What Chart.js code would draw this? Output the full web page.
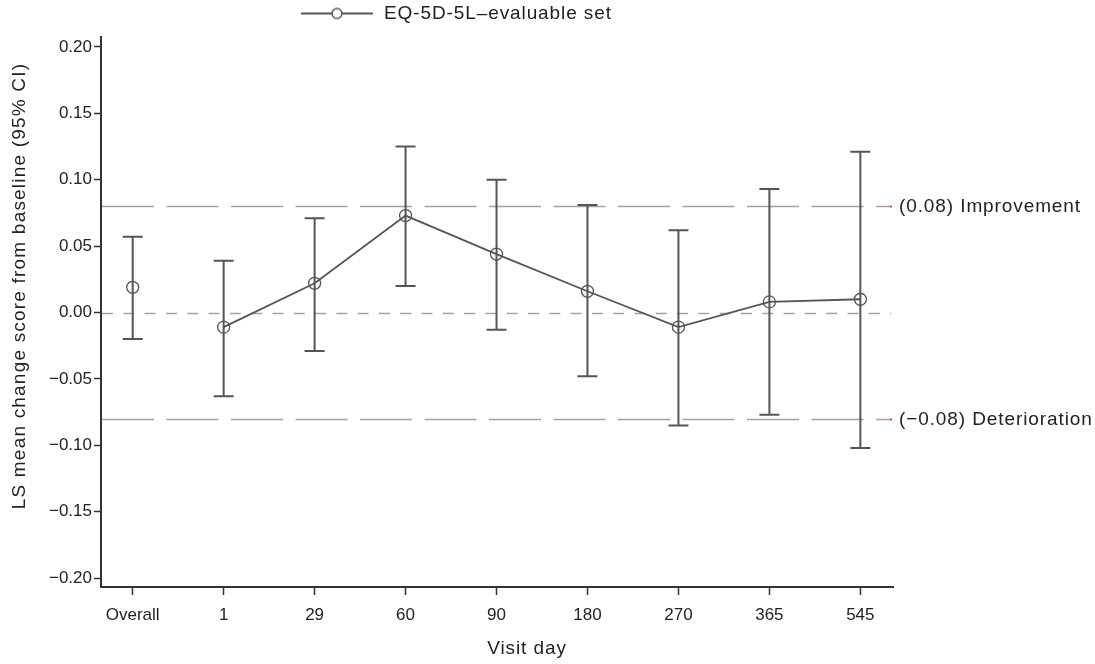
<!DOCTYPE html>
<html><head><meta charset="utf-8">
<script src="https://cdn.jsdelivr.net/npm/chart.js@4.4.1/dist/chart.umd.min.js"></script>
<style>html,body{margin:0;padding:0;background:#fff;} #wrap{width:1095px;height:664px;position:relative;}</style>
</head><body><div id="wrap"><canvas id="c" width="1095" height="664"></canvas></div>
<script>
// ---- data ----
const categories = ['Overall', '1', '29', '60', '90', '180', '270', '365', '545'];
const lsMean  = [0.019, -0.011, 0.022, 0.073, 0.044, 0.016, -0.011, 0.008, 0.010];
const ciLower = [-0.020, -0.063, -0.029, 0.020, -0.013, -0.048, -0.085, -0.077, -0.102];
const ciUpper = [0.057, 0.039, 0.071, 0.125, 0.100, 0.081, 0.062, 0.093, 0.121];
const yTickValues = [-0.20, -0.15, -0.10, -0.05, 0, 0.05, 0.10, 0.15, 0.20];
const refValues = [0.08, 0, -0.08];
const refLabels = ['(0.08) Improvement', '', '(\u22120.08) Deterioration'];
const seriesLabel = 'EQ-5D-5L\u2013evaluable set';
const xTitle = 'Visit day';
const yTitle = 'LS mean change score from baseline (95% CI)';

// ---- style ----
const FONT = "'Liberation Sans', Arial, sans-serif";
const INK = '#555555';
const TXT = '#222222';
const AXIS = '#333333';
const REF = '#a3a3a3';
const LS = '0.9px';
const LS_Y = '1.2px';
const BIG = 19;

const legendIcon = document.createElement('canvas');
legendIcon.width = 72; legendIcon.height = 14;
(function(){
  const g = legendIcon.getContext('2d');
  g.strokeStyle = INK; g.lineWidth = 2;
  g.beginPath(); g.moveTo(0, 7); g.lineTo(72, 7); g.stroke();
  g.beginPath(); g.arc(36, 7, 5, 0, Math.PI * 2);
  g.fillStyle = '#fff'; g.fill(); g.lineWidth = 1.5; g.stroke();
})();

const helper = {
  id: 'helper',
  afterInit(chart) {
    const lg = chart.legend;
    if (lg && !lg._wrapped) {
      const fit = lg.fit, draw = lg.draw;
      lg.fit = function() { fit.call(this); this.height = 37; };
      lg.draw = function() {
        const ctx = this.ctx; ctx.save(); ctx.letterSpacing = LS; ctx.translate(295.5, 0);
        draw.call(this); ctx.restore();
      };
      lg._wrapped = true;
    }
  },
  beforeDraw(chart) {
    const wrap = (s, dx, dy, ls) => {
      if (!s || s._wrapped) return;
      const orig = s.drawTitle;
      s.drawTitle = function() {
        const ctx = this.ctx; ctx.save(); ctx.letterSpacing = ls; ctx.translate(dx, dy);
        orig.apply(this, arguments); ctx.restore();
      };
      s._wrapped = true;
    };
    wrap(chart.scales.x, 30, 0, LS);
    wrap(chart.scales.y, 0, -26, LS_Y);
  },
  beforeDatasetsDraw(chart) {
    const {ctx, chartArea: a, scales: {x: xs, y: ys}} = chart;
    ctx.save();
    refValues.forEach((v, k) => {
      const y = Math.round(ys.getPixelForValue(v)) + 0.5;
      ctx.strokeStyle = REF; ctx.lineWidth = 1.6;
      ctx.setLineDash(v === 0 ? [11, 10.3] : [52, 12.5]);
      ctx.beginPath(); ctx.moveTo(a.left + 1, y); ctx.lineTo(a.right - 2, y); ctx.stroke();
      if (v !== 0) { ctx.fillStyle = '#e04040'; ctx.fillRect(a.right - 3, y - 1, 2, 2); }
    });
    ctx.setLineDash([]);
    ctx.strokeStyle = INK; ctx.lineWidth = 2;
    categories.forEach((c, i) => {
      const x = xs.getPixelForValue(i);
      const yu = ys.getPixelForValue(ciUpper[i]);
      const yl = ys.getPixelForValue(ciLower[i]);
      ctx.beginPath();
      ctx.moveTo(x, yu); ctx.lineTo(x, yl);
      ctx.moveTo(x - 10, yu); ctx.lineTo(x + 10, yu);
      ctx.moveTo(x - 10, yl); ctx.lineTo(x + 10, yl);
      ctx.stroke();
    });
    ctx.restore();
  },
  afterDraw(chart) {
    const {ctx, chartArea: a, scales: {y: ys}} = chart;
    ctx.save();
    ctx.letterSpacing = LS;
    ctx.font = BIG + 'px ' + FONT; ctx.fillStyle = TXT;
    ctx.textAlign = 'left'; ctx.textBaseline = 'middle';
    refValues.forEach((v, k) => {
      if (!refLabels[k]) return;
      ctx.fillText(refLabels[k], a.right + 6, ys.getPixelForValue(v) + 1);
    });
    ctx.restore();
  }
};

Chart.defaults.font.family = FONT;
Chart.defaults.color = TXT;

new Chart(document.getElementById('c'), {
  type: 'line',
  data: {
    datasets: [{
      label: seriesLabel,
      data: categories.map((c, i) => ({x: i, y: lsMean[i]})),
      borderColor: INK,
      borderWidth: 1.8,
      tension: 0,
      pointStyle: 'circle',
      pointRadius: 6,
      pointBorderWidth: 1.3,
      pointBorderColor: INK,
      pointBackgroundColor: 'rgba(0,0,0,0)',
      segment: { borderColor: c => c.p0DataIndex === 0 ? 'rgba(0,0,0,0)' : INK },
      clip: false
    }]
  },
  options: {
    responsive: false,
    animation: false,
    events: [],
    layout: { padding: { top: 0, left: 0, right: 202, bottom: 0 } },
    plugins: {
      tooltip: { enabled: false },
      legend: {
        display: true, position: 'top', align: 'start',
        labels: {
          usePointStyle: true, pointStyle: legendIcon, pointStyleWidth: 75,
          padding: 4, color: TXT, font: { size: BIG, family: FONT }
        }
      }
    },
    scales: {
      x: {
        type: 'linear',
        min: -0.3485, max: 8.359,
        afterBuildTicks: s => { s.ticks = categories.map((c, i) => ({value: i})); },
        afterFit: s => { s.height = 77; },
        ticks: {
          autoSkip: false, maxRotation: 0, padding: 10, color: TXT,
          font: { size: 17 },
          callback: v => categories[v] !== undefined ? categories[v] : ''
        },
        grid: { drawOnChartArea: false, drawTicks: true, tickLength: 8, tickColor: AXIS, tickWidth: 1.5 },
        border: { display: true, color: AXIS, width: 2 },
        title: { display: true, text: xTitle, color: TXT, font: { size: BIG }, padding: { top: 0, bottom: 3.6 } }
      },
      y: {
        type: 'linear',
        min: -0.2066, max: 0.2074,
        afterBuildTicks: s => { s.ticks = yTickValues.map(v => ({value: v})); },
        afterFit: s => { s.width = 101; },
        ticks: {
          padding: 2, color: TXT, font: { size: 17 },
          callback: v => (v < -1e-9 ? '\u2212' : '') + Math.abs(v).toFixed(2)
        },
        grid: { drawOnChartArea: false, drawTicks: true, tickLength: 7, tickColor: AXIS, tickWidth: 1.5 },
        border: { display: true, color: AXIS, width: 2 },
        title: { display: true, text: yTitle, color: TXT, font: { size: BIG }, padding: { top: 8.6, bottom: 0 } }
      }
    }
  },
  plugins: [helper]
});
</script>
</body></html>
